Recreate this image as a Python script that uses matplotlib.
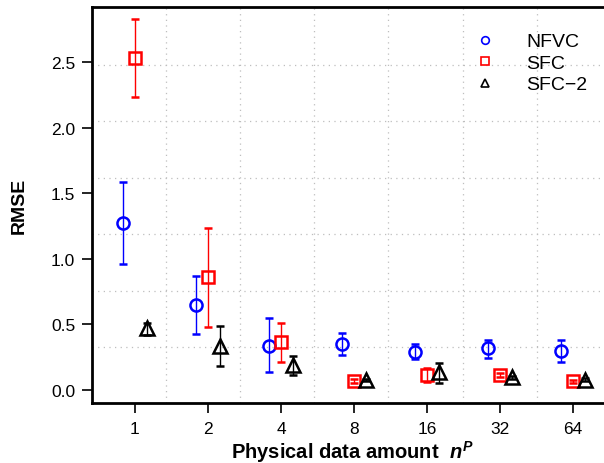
import matplotlib
matplotlib.use("Agg")
import matplotlib.pyplot as plt
from matplotlib.lines import Line2D
import numpy as np

plt.rcParams["font.family"] = "Liberation Sans"
plt.rcParams["mathtext.fontset"] = "custom"
plt.rcParams["mathtext.it"] = "Liberation Sans:italic:bold"
plt.rcParams["mathtext.rm"] = "Liberation Sans:bold"

n_p = ["1", "2", "4", "8", "16", "32", "64"]

nfvc = [1.27, 0.648, 0.338, 0.35, 0.292, 0.318, 0.30]
nfvc_lo = [0.963, 0.427, 0.135, 0.267, 0.236, 0.244, 0.211]
nfvc_hi = [1.588, 0.871, 0.546, 0.432, 0.35, 0.381, 0.383]

sfc = [2.53, 0.859, 0.363, 0.069, 0.115, 0.114, 0.066]
sfc_lo = [2.23, 0.483, 0.216, 0.057, 0.058, 0.099, 0.054]
sfc_hi = [2.83, 1.237, 0.51, 0.081, 0.165, 0.129, 0.078]

sfc2 = [0.47, 0.338, 0.19, 0.076, 0.135, 0.097, 0.079]
sfc2_lo = [0.42, 0.18, 0.117, 0.066, 0.053, 0.087, 0.067]
sfc2_hi = [0.51, 0.488, 0.257, 0.086, 0.206, 0.107, 0.091]

fig = plt.figure(figsize=(6.04, 4.64), dpi=100)
ax = fig.add_axes([92 / 604, 60 / 464, 520 / 604, 396 / 464])

x = np.arange(len(n_p))
shift = 0.165

# dotted grid (R style, not aligned with ticks)
for gx in [0.425, 1.44, 2.455, 3.47, 4.49, 5.51, 6.52]:
    ax.axvline(gx, color="#BEBEBE", lw=0.9, ls=(0, (1, 3.5)), zorder=0)
for gy in [0.328, 0.755, 1.189, 1.616, 2.05, 2.477]:
    ax.axhline(gy, color="#BEBEBE", lw=0.9, ls=(0, (1, 3.5)), zorder=0)

series = [
    (x - shift, nfvc, nfvc_lo, nfvc_hi, "#0000FF", "o", 8.7, "NFVC"),
    (x, sfc, sfc_lo, sfc_hi, "#FF0000", "s", 8.2, "SFC"),
    (x + shift, sfc2, sfc2_lo, sfc2_hi, "black", "^", 9.7, "SFC\u22122"),
]
handles = []
for xs, y, lo, hi, c, m, ms, lab in series:
    y = np.array(y)
    err = [y - np.array(lo), np.array(hi) - y]
    ax.errorbar(xs, y, yerr=err, fmt=m, color=c, ecolor=c, elinewidth=1.0,
                capsize=2.8, capthick=1.0, ms=ms, mfc="none", mec=c, mew=1.8)
    handles.append(Line2D([], [], ls="none", marker=m, color=c, mfc="none",
                          mec=c, ms=5.5, mew=1.2, label=lab))

ax.set_xlim(-0.589, 6.534)
ax.set_ylim(-0.099, 2.919)
ax.set_xticks(x)
ax.set_xticklabels(n_p)
ax.set_yticks([0.0, 0.5, 1.0, 1.5, 2.0, 2.5])
ax.set_yticklabels(["0.0", "0.5", "1.0", "1.5", "2.0", "2.5"])
ax.tick_params(axis="both", labelsize=12.5, length=7, width=1.2, direction="out",
               colors="black", pad=5)
ax.tick_params(axis="x", pad=6)

for s in ["left", "bottom", "top"]:
    ax.spines[s].set_linewidth(2)
ax.spines["right"].set_visible(False)

ax.set_ylabel("RMSE", fontsize=14, fontweight="bold", labelpad=17)
ax.set_xlabel("Physical data amount  $n^P$", fontsize=14.5, fontweight="bold")
ax.xaxis.label.set_va("baseline")
ax.xaxis.set_label_coords((352 - 92) / 520, -(459 - 404) / 396)

ax.legend(handles=handles, loc="upper left", bbox_to_anchor=(460 / 604, 1 - 24 / 464),
          bbox_transform=fig.transFigure, frameon=False, fontsize=14,
          handlelength=1.6, handletextpad=1.3, labelspacing=0.2, borderpad=0)

fig.savefig("out.png", dpi=100)
